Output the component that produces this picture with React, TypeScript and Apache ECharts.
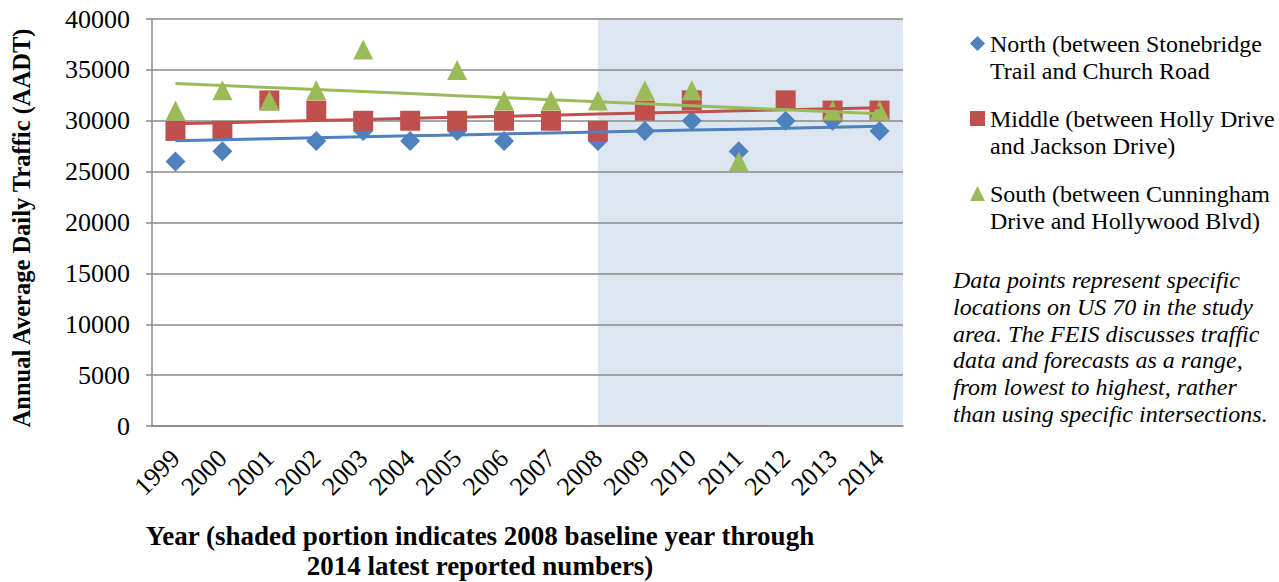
import React, { useEffect, useRef } from "react";
import * as echarts from "echarts";

const years = ["1999", "2000", "2001", "2002", "2003", "2004", "2005", "2006", "2007", "2008", "2009", "2010", "2011", "2012", "2013", "2014"];
const north = [26000, 27000, 32000, 28000, 29000, 28000, 29000, 28000, 30000, 28000, 29000, 30000, 27000, 30000, 30000, 29000];
const middle = [29000, 29000, 32000, 31000, 30000, 30000, 30000, 30000, 30000, 29000, 31000, 32000, null, 32000, 31000, 31000];
const south = [31000, 33000, 32000, 33000, 37000, null, 35000, 32000, 32000, 32000, 33000, 33000, 26000, null, 31000, 31000];
const seriesNames = [
  "North (between Stonebridge\nTrail and Church Road",
  "Middle (between Holly Drive\nand Jackson Drive)",
  "South (between Cunningham\nDrive and Hollywood Blvd)",
];
const yTicks = { min: 0, max: 40000, interval: 5000 };
const shadeStart = "2008";
const yTitle = "Annual Average Daily Traffic (AADT)";
const xTitle = "Year (shaded portion indicates 2008 baseline year through\n2014 latest reported numbers)";
const note = "Data points represent specific\nlocations on US 70 in the study\narea. The FEIS discusses traffic\ndata and forecasts as a range,\nfrom lowest to highest, rather\nthan using specific intersections.";

const COLORS = ["#4F81BD", "#C0504D", "#9BBB59"];
const SYMBOLS = ["diamond", "rect", "triangle"];
const FONT = '"Liberation Serif", "Times New Roman", serif';
const GRID_COLOR = "#8a8a8a";

function trend(vals: (number | null)[]): number[] {
  const pts: [number, number][] = [];
  vals.forEach((v, i) => {
    if (v !== null) pts.push([i, v]);
  });
  const n = pts.length;
  const mx = pts.reduce((s, p) => s + p[0], 0) / n;
  const my = pts.reduce((s, p) => s + p[1], 0) / n;
  let sxy = 0;
  let sxx = 0;
  pts.forEach(([x, y]) => {
    sxy += (x - mx) * (y - my);
    sxx += (x - mx) * (x - mx);
  });
  const b = sxy / sxx;
  const a = my - b * mx;
  return vals.map((_, i) => a + b * i);
}

export default function App() {
  const ref = useRef<HTMLDivElement>(null);
  useEffect(() => {
    if (!ref.current) return;
    const chart = echarts.init(ref.current, null, { renderer: "svg" });
    const data = [north, middle, south];
    const scatterSeries = data.map((vals, i) => ({
      name: seriesNames[i],
      type: "scatter",
      symbol: SYMBOLS[i],
      symbolSize: 20,
      itemStyle: { color: COLORS[i], opacity: 1 },
      data: vals.map((v) => (v === null ? "-" : v)),
      z: 3,
    }));
    const trendSeries = data.map((vals, i) => ({
      name: seriesNames[i] + " trend",
      type: "line",
      showSymbol: false,
      symbol: "none",
      lineStyle: { color: COLORS[i], width: 3 },
      itemStyle: { color: COLORS[i] },
      data: trend(vals),
      z: 4,
    }));
    chart.setOption({
      animation: false,
      backgroundColor: "#ffffff",
      grid: { left: 152, right: 376, top: 19, bottom: 156, containLabel: false },
      xAxis: {
        type: "category",
        data: years,
        boundaryGap: true,
        axisTick: { show: false },
        axisLine: { show: true, lineStyle: { color: GRID_COLOR, width: 1.5 } },
        axisLabel: { rotate: 45, fontFamily: FONT, fontSize: 26, color: "#000", margin: 28, interval: 0 },
        splitLine: { show: false },
      },
      yAxis: {
        type: "value",
        min: yTicks.min,
        max: yTicks.max,
        interval: yTicks.interval,
        axisLine: { show: true, lineStyle: { color: GRID_COLOR, width: 1.5 } },
        axisTick: { show: true, length: 6, lineStyle: { color: GRID_COLOR, width: 1.5 } },
        splitLine: { show: true, lineStyle: { color: GRID_COLOR, width: 1.5 } },
        axisLabel: { fontFamily: FONT, fontSize: 26, color: "#000", margin: 22, formatter: (v: number) => String(v) },
      },
      legend: {
        orient: "vertical",
        left: 970,
        top: 3,
        padding: 0,
        itemWidth: 15,
        itemHeight: 15,
        itemGap: -6,
        data: seriesNames,
        formatter: (name: string) => "\n" + name,
        textStyle: { fontFamily: FONT, fontSize: 24, color: "#000", lineHeight: 27 },
      },
      series: [...scatterSeries, ...trendSeries],
    });

    const xs = chart.convertToPixel({ xAxisIndex: 0 }, shadeStart) as number;
    const xLast = chart.convertToPixel({ xAxisIndex: 0 }, years[years.length - 1]) as number;
    const xPrev = chart.convertToPixel({ xAxisIndex: 0 }, years[years.length - 2]) as number;
    const xe = xLast + (xLast - xPrev) / 2;
    const yt = chart.convertToPixel({ yAxisIndex: 0 }, yTicks.max) as number;
    const yb = chart.convertToPixel({ yAxisIndex: 0 }, yTicks.min) as number;

    chart.setOption({
      graphic: [
        {
          type: "rect",
          z: -1,
          silent: true,
          shape: { x: xs, y: yt, width: xe - xs, height: yb - yt },
          style: { fill: "#DCE6F1" },
        },
        {
          type: "text",
          x: 21,
          y: 228,
          rotation: Math.PI / 2,
          style: { text: yTitle, fontFamily: FONT, fontSize: 24.5, fontWeight: "bold", fill: "#000", align: "center", verticalAlign: "middle" },
        },
        {
          type: "text",
          x: 480,
          y: 551,
          style: { text: xTitle, fontFamily: FONT, fontSize: 27, fontWeight: "bold", fill: "#000", align: "center", verticalAlign: "middle", lineHeight: 30 },
        },
        {
          type: "text",
          x: 953,
          y: 267,
          style: { text: note, fontFamily: FONT, fontSize: 24, fontStyle: "italic", fill: "#000", align: "left", verticalAlign: "top", lineHeight: 26.7 },
        },
      ],
    });
    return () => chart.dispose();
  }, []);
  return <div ref={ref} style={{ position: "fixed", left: 0, top: 0, width: 1279, height: 582 }} />;
}
